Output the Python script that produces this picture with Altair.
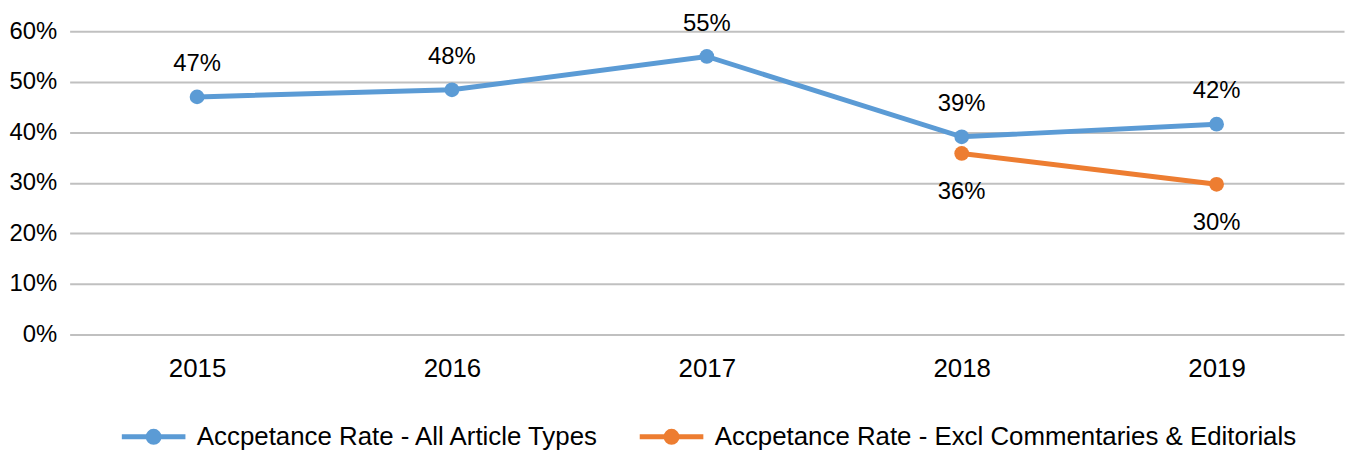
import altair as alt
import pandas as pd

years = ["2015", "2016", "2017", "2018", "2019"]
all_types = [0.47, 0.484, 0.55, 0.391, 0.416]
excl_years = ["2018", "2019"]
excl_vals = [0.358, 0.297]
s1 = "Accpetance Rate - All Article Types"
s2 = "Accpetance Rate - Excl Commentaries & Editorials"

df1 = pd.DataFrame({"year": years, "rate": all_types, "series": s1})
df2 = pd.DataFrame({"year": excl_years, "rate": excl_vals, "series": s2})
df = pd.concat([df1, df2], ignore_index=True)

FONT = "Liberation Sans"

color = alt.Color(
    "series:N",
    scale=alt.Scale(domain=[s1, s2], range=["#5b9bd5", "#ed7d31"]),
    legend=alt.Legend(
        title=None,
        orient="none",
        direction="horizontal",
        legendX=50,
        legendY=373,
        symbolType="M-1,0L1,0M-0.1719,0A0.1719,0.1719,0,1,0,0.1719,0A0.1719,0.1719,0,1,0,-0.1719,0M-0.078,0A0.078,0.078,0,1,0,0.078,0A0.078,0.078,0,1,0,-0.078,0",
        symbolSize=4096,
        symbolStrokeWidth=5,
        labelFont=FONT,
        labelFontSize=26,
        labelColor="#000000",
        labelLimit=800,
        labelOffset=9,
        columnPadding=28,
        padding=0,
    ),
)

x = alt.X(
    "year:N",
    sort=years,
    scale=alt.Scale(type="point", padding=0.5, domain=years),
    axis=alt.Axis(
        title=None, labelAngle=0, ticks=False, domain=False, grid=False,
        labelFont=FONT, labelFontSize=26, labelColor="#000000", labelPadding=21,
    ),
)
y = alt.Y(
    "rate:Q",
    scale=alt.Scale(domain=[0, 0.6], nice=False),
    axis=alt.Axis(
        title=None, format=".0%", values=[0, 0.1, 0.2, 0.3, 0.4, 0.5, 0.6],
        ticks=False, domain=False, grid=True, gridColor="#c0c0c0", gridWidth=2,
        labelFont=FONT, labelFontSize=24, labelColor="#000000", labelPadding=13,
    ),
)

base = alt.Chart(df).encode(x=x, y=y, color=color)
lines = base.mark_line(strokeWidth=5)
points = base.mark_point(filled=True, size=220, opacity=1)

lab1 = alt.Chart(df1).mark_text(
    dy=-33, font=FONT, fontSize=24, color="#000000", baseline="middle"
).encode(x=x, y=y, text=alt.Text("rate:Q", format=".0%"))
lab2 = alt.Chart(df2).mark_text(
    dy=39, font=FONT, fontSize=24, color="#000000", baseline="middle"
).encode(x=x, y=y, text=alt.Text("rate:Q", format=".0%"))

chart = alt.layer(lines, points, lab1, lab2).properties(
    width=1282,
    height=305,
    autosize=alt.AutoSizeParams(type="none"),
    padding={"left": 62, "top": 22, "right": 4, "bottom": 122},
).configure_view(stroke=None)

chart.save("out.html", embed_options={"renderer": "svg", "actions": False})
